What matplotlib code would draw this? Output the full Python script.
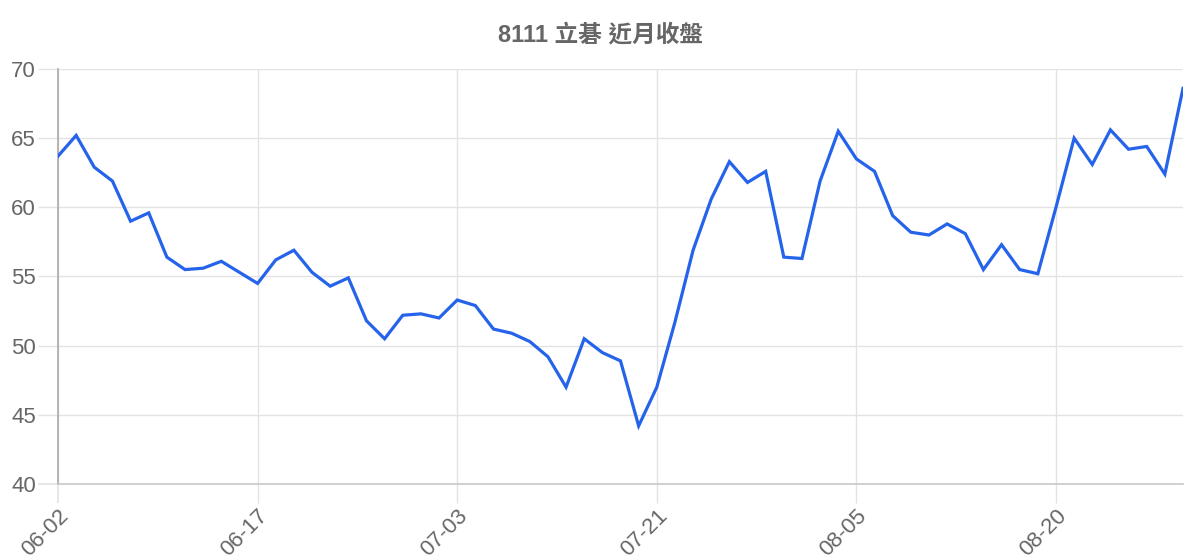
import matplotlib
matplotlib.use("Agg")
import matplotlib.pyplot as plt

dates = [
    "06-02", "06-03", "06-04", "06-05", "06-06", "06-09", "06-10", "06-11", "06-12", "06-13",
    "06-16", "06-17", "06-18", "06-19", "06-23", "06-24", "06-25", "06-26", "06-27", "06-30",
    "07-01", "07-02", "07-03", "07-04", "07-08", "07-09", "07-10", "07-11", "07-14", "07-15",
    "07-16", "07-17", "07-18", "07-21", "07-22", "07-23", "07-24", "07-25", "07-28", "07-29",
    "07-30", "07-31", "08-01", "08-04", "08-05", "08-06", "08-07", "08-08", "08-11", "08-12",
    "08-13", "08-14", "08-15", "08-18", "08-19", "08-20", "08-21", "08-22", "08-25", "08-26",
    "08-27", "08-28", "08-29",
]
closes = [
    63.7, 65.2, 62.9, 61.9, 59.0, 59.6, 56.4, 55.5, 55.6, 56.1,
    55.3, 54.5, 56.2, 56.9, 55.3, 54.3, 54.9, 51.8, 50.5, 52.2,
    52.3, 52.0, 53.3, 52.9, 51.2, 50.9, 50.3, 49.2, 47.0, 50.5,
    49.5, 48.9, 44.2, 47.0, 51.7, 56.9, 60.6, 63.3, 61.8, 62.6,
    56.4, 56.3, 61.9, 65.5, 63.5, 62.6, 59.4, 58.2, 58.0, 58.8,
    58.1, 55.5, 57.3, 55.5, 55.2, 60.0, 65.0, 63.1, 65.6, 64.2,
    64.4, 62.4, 68.6,
]
tick_step = 11
y_ticks = [40, 45, 50, 55, 60, 65, 70]
title = "8111 立碁 近月收盤"

FONT = ["Liberation Sans", "Noto Sans CJK TC", "DejaVu Sans"]
plt.rcParams["font.family"] = FONT

fig = plt.figure(figsize=(12, 5.6), dpi=100)
ax = fig.add_axes([58 / 1200, 1 - 484 / 560, (1183 - 58) / 1200, (484 - 69) / 560])

x = list(range(len(closes)))
ax.plot(x, closes, color="#2563eb", linewidth=2.3, solid_joinstyle="miter", zorder=3)

ax.set_xlim(0, len(closes) - 1)
ax.set_ylim(40, 70)

xt = list(range(0, len(dates), tick_step))
ax.set_xticks(xt)
ax.set_xticklabels([dates[i] for i in xt], rotation=45, ha="right", va="top",
                   rotation_mode="anchor", fontsize=16, color="#666666")
ax.set_yticks(y_ticks)
ax.set_yticklabels([str(v) for v in y_ticks], fontsize=16, color="#666666")

ax.grid(True, color="#e3e3e3", linewidth=1.0, zorder=0)
ax.tick_params(axis="y", length=14.5, width=1.0, color="#e3e3e3", pad=1.5)
ax.tick_params(axis="x", length=13.5, width=1.0, color="#e3e3e3", pad=2)
xtl = ax.xaxis.get_major_ticks()
xtl[0].tick1line.set_color("#aaaaaa")
xtl[0].tick1line.set_markeredgewidth(1.2)
ytl = ax.yaxis.get_major_ticks()
ytl[0].tick1line.set_color("#c8c8c8")
ytl[0].tick1line.set_markeredgewidth(1.2)

for s in ["top", "right"]:
    ax.spines[s].set_visible(False)
ax.spines["left"].set_color("#aaaaaa")
ax.spines["left"].set_linewidth(1.2)
ax.spines["bottom"].set_color("#c8c8c8")
ax.spines["bottom"].set_linewidth(1.2)

fig.text(0.5, 1 - 35 / 560, title, ha="center", va="center", fontsize=17,
         fontweight="bold", color="#666666", family=FONT)

fig.savefig("out.png", dpi=100)
